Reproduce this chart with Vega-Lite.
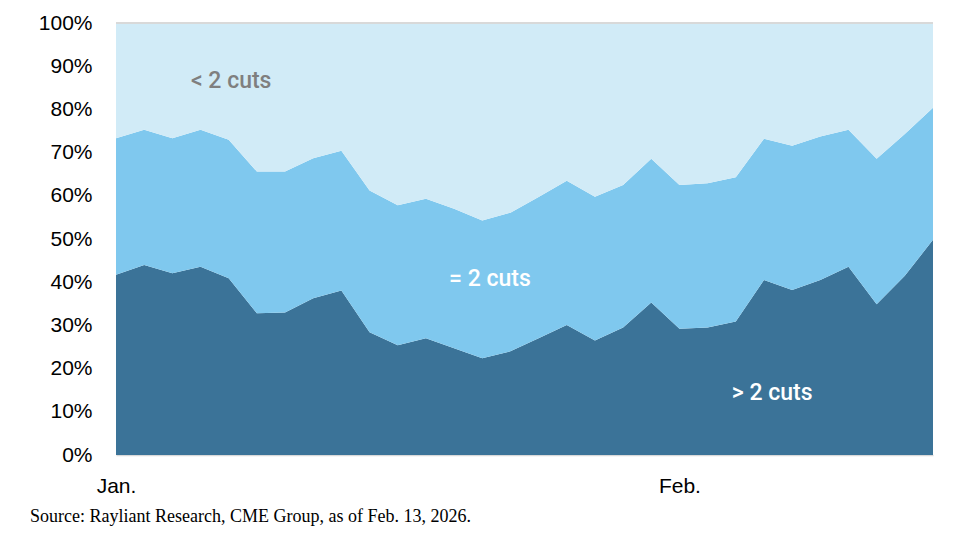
{
  "$schema": "https://vega.github.io/schema/vega-lite/v6.json",
  "width": 817,
  "height": 432,
  "autosize": {"type": "none"},
  "padding": {"left": 116, "top": 23, "right": 29, "bottom": 85},
  "background": "white",
  "title": {
    "text": "Source: Rayliant Research, CME Group, as of Feb. 13, 2026.",
    "orient": "bottom",
    "anchor": "start",
    "frame": "group",
    "dx": -86,
    "offset": 12,
    "font": "Liberation Serif",
    "fontSize": 18,
    "fontWeight": "normal",
    "color": "black"
  },
  "datasets": {
    "probs": [
      {"day": 0, "series": "> 2 cuts", "value": 41.7}, {"day": 0, "series": "= 2 cuts", "value": 31.6}, {"day": 0, "series": "< 2 cuts", "value": 26.7},
      {"day": 1, "series": "> 2 cuts", "value": 44.0}, {"day": 1, "series": "= 2 cuts", "value": 31.3}, {"day": 1, "series": "< 2 cuts", "value": 24.7},
      {"day": 2, "series": "> 2 cuts", "value": 42.1}, {"day": 2, "series": "= 2 cuts", "value": 31.2}, {"day": 2, "series": "< 2 cuts", "value": 26.7},
      {"day": 3, "series": "> 2 cuts", "value": 43.6}, {"day": 3, "series": "= 2 cuts", "value": 31.7}, {"day": 3, "series": "< 2 cuts", "value": 24.7},
      {"day": 4, "series": "> 2 cuts", "value": 40.9}, {"day": 4, "series": "= 2 cuts", "value": 32.1}, {"day": 4, "series": "< 2 cuts", "value": 27.0},
      {"day": 5, "series": "> 2 cuts", "value": 32.8}, {"day": 5, "series": "= 2 cuts", "value": 32.8}, {"day": 5, "series": "< 2 cuts", "value": 34.4},
      {"day": 6, "series": "> 2 cuts", "value": 33.0}, {"day": 6, "series": "= 2 cuts", "value": 32.6}, {"day": 6, "series": "< 2 cuts", "value": 34.4},
      {"day": 7, "series": "> 2 cuts", "value": 36.3}, {"day": 7, "series": "= 2 cuts", "value": 32.4}, {"day": 7, "series": "< 2 cuts", "value": 31.3},
      {"day": 8, "series": "> 2 cuts", "value": 38.1}, {"day": 8, "series": "= 2 cuts", "value": 32.3}, {"day": 8, "series": "< 2 cuts", "value": 29.6},
      {"day": 9, "series": "> 2 cuts", "value": 28.4}, {"day": 9, "series": "= 2 cuts", "value": 32.8}, {"day": 9, "series": "< 2 cuts", "value": 38.8},
      {"day": 10, "series": "> 2 cuts", "value": 25.4}, {"day": 10, "series": "= 2 cuts", "value": 32.4}, {"day": 10, "series": "< 2 cuts", "value": 42.2},
      {"day": 11, "series": "> 2 cuts", "value": 27.0}, {"day": 11, "series": "= 2 cuts", "value": 32.3}, {"day": 11, "series": "< 2 cuts", "value": 40.7},
      {"day": 12, "series": "> 2 cuts", "value": 24.7}, {"day": 12, "series": "= 2 cuts", "value": 32.3}, {"day": 12, "series": "< 2 cuts", "value": 43.0},
      {"day": 13, "series": "> 2 cuts", "value": 22.4}, {"day": 13, "series": "= 2 cuts", "value": 31.9}, {"day": 13, "series": "< 2 cuts", "value": 45.7},
      {"day": 14, "series": "> 2 cuts", "value": 24.0}, {"day": 14, "series": "= 2 cuts", "value": 32.1}, {"day": 14, "series": "< 2 cuts", "value": 43.9},
      {"day": 15, "series": "> 2 cuts", "value": 27.0}, {"day": 15, "series": "= 2 cuts", "value": 32.7}, {"day": 15, "series": "< 2 cuts", "value": 40.3},
      {"day": 16, "series": "> 2 cuts", "value": 30.1}, {"day": 16, "series": "= 2 cuts", "value": 33.4}, {"day": 16, "series": "< 2 cuts", "value": 36.5},
      {"day": 17, "series": "> 2 cuts", "value": 26.5}, {"day": 17, "series": "= 2 cuts", "value": 33.3}, {"day": 17, "series": "< 2 cuts", "value": 40.2},
      {"day": 18, "series": "> 2 cuts", "value": 29.5}, {"day": 18, "series": "= 2 cuts", "value": 33.0}, {"day": 18, "series": "< 2 cuts", "value": 37.5},
      {"day": 19, "series": "> 2 cuts", "value": 35.3}, {"day": 19, "series": "= 2 cuts", "value": 33.3}, {"day": 19, "series": "< 2 cuts", "value": 31.4},
      {"day": 20, "series": "> 2 cuts", "value": 29.2}, {"day": 20, "series": "= 2 cuts", "value": 33.3}, {"day": 20, "series": "< 2 cuts", "value": 37.5},
      {"day": 21, "series": "> 2 cuts", "value": 29.5}, {"day": 21, "series": "= 2 cuts", "value": 33.4}, {"day": 21, "series": "< 2 cuts", "value": 37.1},
      {"day": 22, "series": "> 2 cuts", "value": 30.9}, {"day": 22, "series": "= 2 cuts", "value": 33.4}, {"day": 22, "series": "< 2 cuts", "value": 35.7},
      {"day": 23, "series": "> 2 cuts", "value": 40.5}, {"day": 23, "series": "= 2 cuts", "value": 32.7}, {"day": 23, "series": "< 2 cuts", "value": 26.8},
      {"day": 24, "series": "> 2 cuts", "value": 38.2}, {"day": 24, "series": "= 2 cuts", "value": 33.4}, {"day": 24, "series": "< 2 cuts", "value": 28.4},
      {"day": 25, "series": "> 2 cuts", "value": 40.5}, {"day": 25, "series": "= 2 cuts", "value": 33.2}, {"day": 25, "series": "< 2 cuts", "value": 26.3},
      {"day": 26, "series": "> 2 cuts", "value": 43.6}, {"day": 26, "series": "= 2 cuts", "value": 31.7}, {"day": 26, "series": "< 2 cuts", "value": 24.7},
      {"day": 27, "series": "> 2 cuts", "value": 34.9}, {"day": 27, "series": "= 2 cuts", "value": 33.7}, {"day": 27, "series": "< 2 cuts", "value": 31.4},
      {"day": 28, "series": "> 2 cuts", "value": 41.5}, {"day": 28, "series": "= 2 cuts", "value": 32.8}, {"day": 28, "series": "< 2 cuts", "value": 25.7},
      {"day": 29, "series": "> 2 cuts", "value": 49.8}, {"day": 29, "series": "= 2 cuts", "value": 30.6}, {"day": 29, "series": "< 2 cuts", "value": 19.6}
    ],
    "labels": [
      {"day": 2.66, "pct": 86.6, "label": "< 2 cuts"},
      {"day": 11.82, "pct": 40.8, "label": "= 2 cuts"},
      {"day": 21.86, "pct": 14.4, "label": "> 2 cuts"}
    ]
  },
  "layer": [
    {
      "data": {"name": "probs"},
      "mark": {"type": "area", "interpolate": "linear"},
      "encoding": {
        "x": {
          "field": "day",
          "type": "quantitative",
          "scale": {"domain": [0, 29], "nice": false, "zero": false},
          "axis": {
            "values": [0, 20],
            "labelExpr": "datum.value == 0 ? 'Jan.' : 'Feb.'",
            "title": null,
            "grid": false,
            "ticks": false,
            "labelPadding": 20,
            "labelFlush": false,
            "domainColor": "#d9d9d9",
            "domainWidth": 1.5
          }
        },
        "y": {
          "field": "value",
          "type": "quantitative",
          "stack": "zero",
          "scale": {"domain": [0, 100], "nice": false},
          "axis": {
            "values": [0, 10, 20, 30, 40, 50, 60, 70, 80, 90, 100],
            "labelExpr": "datum.value + '%'",
            "title": null,
            "grid": false,
            "ticks": false,
            "domain": false,
            "labelPadding": 24
          }
        },
        "color": {
          "field": "series",
          "type": "nominal",
          "scale": {
            "domain": ["> 2 cuts", "= 2 cuts", "< 2 cuts"],
            "range": ["#3b7398", "#7fc8ee", "#d1ebf7"]
          },
          "legend": null
        },
        "order": {"field": "series", "sort": "descending"}
      }
    },
    {
      "data": {"name": "labels"},
      "mark": {"type": "rule", "color": "#d9d9d9", "strokeWidth": 1.5},
      "encoding": {"y": {"datum": 100}}
    },
    {
      "data": {"name": "labels"},
      "mark": {"type": "text", "align": "left", "baseline": "middle", "font": "Roboto", "fontSize": 23, "fontWeight": 500},
      "encoding": {
        "x": {"field": "day", "type": "quantitative"},
        "y": {"field": "pct", "type": "quantitative"},
        "text": {"field": "label"},
        "color": {
          "condition": {"test": "datum.label === '< 2 cuts'", "value": "#7f7f7f"},
          "value": "#ffffff"
        }
      }
    }
  ],
  "config": {
    "view": {"stroke": null},
    "axis": {
      "labelFont": "Liberation Sans",
      "labelFontSize": 21,
      "labelColor": "#000000"
    }
  }
}
